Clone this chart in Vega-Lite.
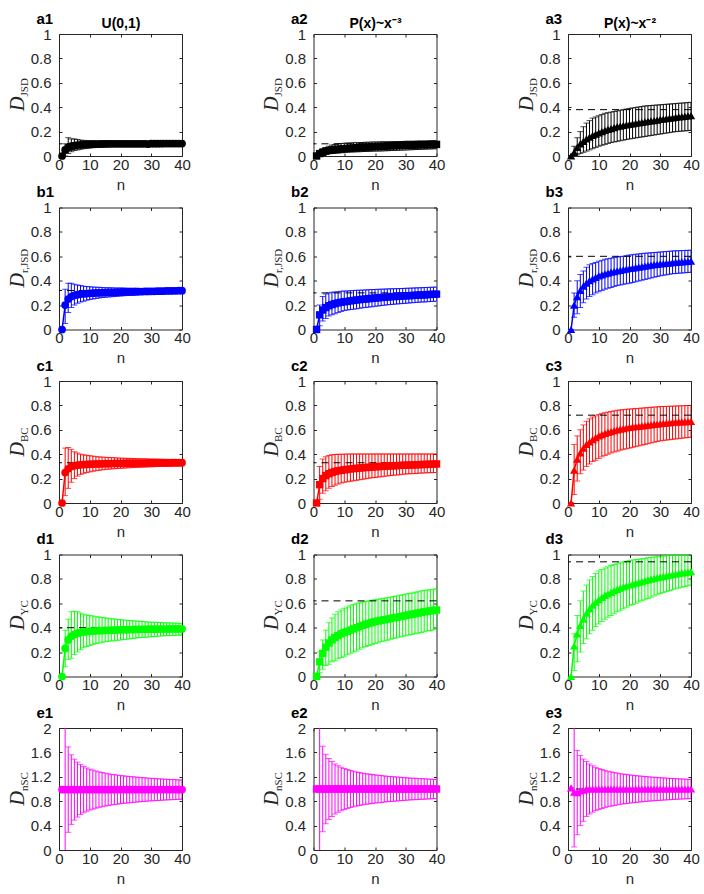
{
"$schema":"https://vega.github.io/schema/vega-lite/v6.json",
"background":"white",
"padding":{"left":7,"top":11,"right":5,"bottom":5},
"columns":3,
"spacing":{"row":51.5,"column":131.5},
"bounds":"flush",
"config":{
 "view":{"stroke":null},
 "axis":{"grid":false,"domainColor":"#262626","tickColor":"#262626","labelColor":"#262626","labelFont":"Liberation Sans","labelFontSize":15,"tickSize":-3,"domainWidth":1,"tickWidth":1,"titleColor":"#262626","titleFont":"Liberation Sans","titleFontSize":15,"titleFontWeight":"normal","labelFlush":false,"labelOverlap":false},
 "axisBottom":{"labelPadding":4,"titlePadding":5},
 "axisTop":{"labels":false,"titleFontWeight":"bold","titleFontSize":15,"titleColor":"#000","titleAlign":"left","titleBaseline":"alphabetic","titleAngle":0,"titleX":-23,"titleY":-11},
 "axisRight":{"labels":false},
 "axisLeft":{"format":"~g","labelPadding":11,"titleFont":"Liberation Serif","titleFontStyle":"italic","titleFontSize":20,"titleAngle":270,"titleAlign":"left","titleBaseline":"alphabetic","titleX":-36}
},
"datasets":{
"refs":[{"p":"a1","v":0.1},{"p":"a2","v":0.1},{"p":"a3","v":0.38},{"p":"b1","v":0.32},{"p":"b2","v":0.3},{"p":"b3","v":0.6},{"p":"c1","v":0.33},{"p":"c2","v":0.33},{"p":"c3","v":0.72},{"p":"d1","v":0.4},{"p":"d2","v":0.62},{"p":"d3","v":0.94},{"p":"e1","v":1},{"p":"e2","v":1},{"p":"e3","v":1}],
"a1":[{"n":1,"m":0,"l":0,"h":0},{"n":2,"m":0.05,"l":0,"h":0.1},{"n":3,"m":0.07,"l":0.02,"h":0.15},{"n":4,"m":0.08,"l":0.035,"h":0.14},{"n":5,"m":0.085,"l":0.045,"h":0.14},{"n":6,"m":0.09,"l":0.05,"h":0.135},{"n":7,"m":0.092,"l":0.055,"h":0.13},{"n":8,"m":0.094,"l":0.06,"h":0.128},{"n":9,"m":0.095,"l":0.063,"h":0.126},{"n":10,"m":0.096,"l":0.066,"h":0.125},{"n":11,"m":0.097,"l":0.068,"h":0.124},{"n":12,"m":0.098,"l":0.07,"h":0.123},{"n":13,"m":0.098,"l":0.072,"h":0.122},{"n":14,"m":0.099,"l":0.073,"h":0.122},{"n":15,"m":0.099,"l":0.075,"h":0.121},{"n":16,"m":0.1,"l":0.076,"h":0.121},{"n":17,"m":0.1,"l":0.077,"h":0.12},{"n":18,"m":0.1,"l":0.078,"h":0.12},{"n":19,"m":0.1,"l":0.079,"h":0.12},{"n":20,"m":0.1,"l":0.08,"h":0.119},{"n":21,"m":0.1,"l":0.08,"h":0.119},{"n":22,"m":0.1,"l":0.081,"h":0.119},{"n":23,"m":0.1,"l":0.081,"h":0.118},{"n":24,"m":0.1,"l":0.082,"h":0.118},{"n":25,"m":0.1,"l":0.082,"h":0.118},{"n":26,"m":0.1,"l":0.083,"h":0.118},{"n":27,"m":0.1,"l":0.083,"h":0.117},{"n":28,"m":0.1,"l":0.084,"h":0.117},{"n":29,"m":0.098,"l":0.084,"h":0.117},{"n":30,"m":0.101,"l":0.085,"h":0.117},{"n":31,"m":0.101,"l":0.085,"h":0.117},{"n":32,"m":0.101,"l":0.085,"h":0.116},{"n":33,"m":0.101,"l":0.086,"h":0.116},{"n":34,"m":0.102,"l":0.086,"h":0.116},{"n":35,"m":0.102,"l":0.086,"h":0.116},{"n":36,"m":0.102,"l":0.087,"h":0.116},{"n":37,"m":0.102,"l":0.087,"h":0.115},{"n":38,"m":0.102,"l":0.087,"h":0.115},{"n":39,"m":0.102,"l":0.088,"h":0.115},{"n":40,"m":0.102,"l":0.088,"h":0.115}],
"a2":[{"n":1,"m":0,"l":0,"h":0},{"n":2,"m":0.02,"l":0.005,"h":0.04},{"n":3,"m":0.03,"l":0.01,"h":0.06},{"n":4,"m":0.04,"l":0.015,"h":0.07},{"n":5,"m":0.045,"l":0.02,"h":0.08},{"n":6,"m":0.05,"l":0.02,"h":0.09},{"n":7,"m":0.053,"l":0.022,"h":0.095},{"n":8,"m":0.056,"l":0.025,"h":0.1},{"n":9,"m":0.058,"l":0.027,"h":0.102},{"n":10,"m":0.06,"l":0.03,"h":0.105},{"n":11,"m":0.062,"l":0.031,"h":0.106},{"n":12,"m":0.064,"l":0.032,"h":0.107},{"n":13,"m":0.066,"l":0.033,"h":0.108},{"n":14,"m":0.068,"l":0.034,"h":0.109},{"n":15,"m":0.07,"l":0.035,"h":0.11},{"n":16,"m":0.071,"l":0.036,"h":0.111},{"n":17,"m":0.073,"l":0.037,"h":0.112},{"n":18,"m":0.074,"l":0.038,"h":0.113},{"n":19,"m":0.076,"l":0.039,"h":0.114},{"n":20,"m":0.077,"l":0.04,"h":0.115},{"n":21,"m":0.078,"l":0.041,"h":0.115},{"n":22,"m":0.079,"l":0.042,"h":0.116},{"n":23,"m":0.08,"l":0.043,"h":0.116},{"n":24,"m":0.082,"l":0.044,"h":0.117},{"n":25,"m":0.083,"l":0.045,"h":0.117},{"n":26,"m":0.084,"l":0.046,"h":0.118},{"n":27,"m":0.085,"l":0.047,"h":0.118},{"n":28,"m":0.086,"l":0.048,"h":0.119},{"n":29,"m":0.087,"l":0.049,"h":0.119},{"n":30,"m":0.088,"l":0.05,"h":0.12},{"n":31,"m":0.089,"l":0.051,"h":0.12},{"n":32,"m":0.089,"l":0.052,"h":0.121},{"n":33,"m":0.09,"l":0.053,"h":0.121},{"n":34,"m":0.091,"l":0.054,"h":0.122},{"n":35,"m":0.092,"l":0.055,"h":0.122},{"n":36,"m":0.092,"l":0.056,"h":0.123},{"n":37,"m":0.093,"l":0.057,"h":0.123},{"n":38,"m":0.094,"l":0.058,"h":0.124},{"n":39,"m":0.094,"l":0.059,"h":0.124},{"n":40,"m":0.095,"l":0.06,"h":0.125}],
"a3":[{"n":1,"m":0,"l":0,"h":0},{"n":2,"m":0.03,"l":0,"h":0.08},{"n":3,"m":0.07,"l":0.01,"h":0.15},{"n":4,"m":0.1,"l":0.02,"h":0.2},{"n":5,"m":0.12,"l":0.03,"h":0.24},{"n":6,"m":0.14,"l":0.04,"h":0.27},{"n":7,"m":0.155,"l":0.05,"h":0.29},{"n":8,"m":0.17,"l":0.06,"h":0.31},{"n":9,"m":0.18,"l":0.07,"h":0.32},{"n":10,"m":0.19,"l":0.08,"h":0.33},{"n":11,"m":0.2,"l":0.088,"h":0.34},{"n":12,"m":0.21,"l":0.095,"h":0.35},{"n":13,"m":0.218,"l":0.103,"h":0.355},{"n":14,"m":0.225,"l":0.11,"h":0.36},{"n":15,"m":0.233,"l":0.115,"h":0.365},{"n":16,"m":0.24,"l":0.12,"h":0.37},{"n":17,"m":0.245,"l":0.125,"h":0.375},{"n":18,"m":0.25,"l":0.13,"h":0.38},{"n":19,"m":0.255,"l":0.135,"h":0.385},{"n":20,"m":0.26,"l":0.14,"h":0.39},{"n":21,"m":0.264,"l":0.144,"h":0.394},{"n":22,"m":0.268,"l":0.148,"h":0.398},{"n":23,"m":0.272,"l":0.152,"h":0.402},{"n":24,"m":0.276,"l":0.156,"h":0.406},{"n":25,"m":0.28,"l":0.16,"h":0.41},{"n":26,"m":0.284,"l":0.164,"h":0.412},{"n":27,"m":0.287,"l":0.168,"h":0.414},{"n":28,"m":0.29,"l":0.172,"h":0.416},{"n":29,"m":0.295,"l":0.176,"h":0.418},{"n":30,"m":0.3,"l":0.18,"h":0.42},{"n":31,"m":0.303,"l":0.184,"h":0.422},{"n":32,"m":0.306,"l":0.188,"h":0.424},{"n":33,"m":0.31,"l":0.192,"h":0.426},{"n":34,"m":0.313,"l":0.196,"h":0.428},{"n":35,"m":0.316,"l":0.2,"h":0.43},{"n":36,"m":0.32,"l":0.202,"h":0.432},{"n":37,"m":0.322,"l":0.204,"h":0.434},{"n":38,"m":0.325,"l":0.206,"h":0.436},{"n":39,"m":0.328,"l":0.208,"h":0.438},{"n":40,"m":0.33,"l":0.21,"h":0.44}],
"b1":[{"n":1,"m":0,"l":0,"h":0},{"n":2,"m":0.2,"l":0.05,"h":0.33},{"n":3,"m":0.25,"l":0.14,"h":0.38},{"n":4,"m":0.27,"l":0.18,"h":0.38},{"n":5,"m":0.28,"l":0.2,"h":0.37},{"n":6,"m":0.285,"l":0.215,"h":0.365},{"n":7,"m":0.29,"l":0.225,"h":0.36},{"n":8,"m":0.293,"l":0.232,"h":0.355},{"n":9,"m":0.295,"l":0.239,"h":0.352},{"n":10,"m":0.297,"l":0.245,"h":0.35},{"n":11,"m":0.298,"l":0.25,"h":0.348},{"n":12,"m":0.3,"l":0.255,"h":0.347},{"n":13,"m":0.301,"l":0.258,"h":0.346},{"n":14,"m":0.302,"l":0.262,"h":0.344},{"n":15,"m":0.303,"l":0.265,"h":0.343},{"n":16,"m":0.304,"l":0.267,"h":0.342},{"n":17,"m":0.305,"l":0.269,"h":0.342},{"n":18,"m":0.305,"l":0.271,"h":0.341},{"n":19,"m":0.306,"l":0.273,"h":0.341},{"n":20,"m":0.307,"l":0.275,"h":0.34},{"n":21,"m":0.308,"l":0.277,"h":0.34},{"n":22,"m":0.308,"l":0.278,"h":0.339},{"n":23,"m":0.309,"l":0.28,"h":0.339},{"n":24,"m":0.309,"l":0.281,"h":0.338},{"n":25,"m":0.31,"l":0.283,"h":0.338},{"n":26,"m":0.311,"l":0.284,"h":0.337},{"n":27,"m":0.311,"l":0.286,"h":0.337},{"n":28,"m":0.312,"l":0.287,"h":0.336},{"n":29,"m":0.312,"l":0.289,"h":0.336},{"n":30,"m":0.313,"l":0.29,"h":0.335},{"n":31,"m":0.313,"l":0.291,"h":0.335},{"n":32,"m":0.314,"l":0.292,"h":0.334},{"n":33,"m":0.314,"l":0.293,"h":0.334},{"n":34,"m":0.315,"l":0.294,"h":0.334},{"n":35,"m":0.316,"l":0.295,"h":0.333},{"n":36,"m":0.316,"l":0.296,"h":0.333},{"n":37,"m":0.317,"l":0.297,"h":0.333},{"n":38,"m":0.317,"l":0.298,"h":0.332},{"n":39,"m":0.318,"l":0.299,"h":0.332},{"n":40,"m":0.318,"l":0.3,"h":0.332}],
"b2":[{"n":1,"m":0,"l":0,"h":0},{"n":2,"m":0.12,"l":0.03,"h":0.2},{"n":3,"m":0.16,"l":0.07,"h":0.27},{"n":4,"m":0.18,"l":0.09,"h":0.29},{"n":5,"m":0.195,"l":0.11,"h":0.3},{"n":6,"m":0.205,"l":0.12,"h":0.305},{"n":7,"m":0.212,"l":0.13,"h":0.308},{"n":8,"m":0.218,"l":0.14,"h":0.31},{"n":9,"m":0.223,"l":0.148,"h":0.313},{"n":10,"m":0.228,"l":0.155,"h":0.315},{"n":11,"m":0.23,"l":0.159,"h":0.316},{"n":12,"m":0.235,"l":0.163,"h":0.318},{"n":13,"m":0.238,"l":0.167,"h":0.319},{"n":14,"m":0.242,"l":0.171,"h":0.321},{"n":15,"m":0.245,"l":0.175,"h":0.322},{"n":16,"m":0.248,"l":0.178,"h":0.323},{"n":17,"m":0.25,"l":0.181,"h":0.324},{"n":18,"m":0.253,"l":0.184,"h":0.326},{"n":19,"m":0.255,"l":0.187,"h":0.327},{"n":20,"m":0.258,"l":0.19,"h":0.328},{"n":21,"m":0.26,"l":0.193,"h":0.329},{"n":22,"m":0.262,"l":0.196,"h":0.33},{"n":23,"m":0.264,"l":0.199,"h":0.331},{"n":24,"m":0.266,"l":0.202,"h":0.332},{"n":25,"m":0.268,"l":0.205,"h":0.333},{"n":26,"m":0.27,"l":0.207,"h":0.334},{"n":27,"m":0.271,"l":0.209,"h":0.335},{"n":28,"m":0.273,"l":0.211,"h":0.336},{"n":29,"m":0.275,"l":0.213,"h":0.337},{"n":30,"m":0.276,"l":0.215,"h":0.338},{"n":31,"m":0.277,"l":0.217,"h":0.339},{"n":32,"m":0.279,"l":0.219,"h":0.34},{"n":33,"m":0.28,"l":0.221,"h":0.341},{"n":34,"m":0.282,"l":0.223,"h":0.342},{"n":35,"m":0.283,"l":0.225,"h":0.343},{"n":36,"m":0.284,"l":0.226,"h":0.344},{"n":37,"m":0.286,"l":0.228,"h":0.345},{"n":38,"m":0.287,"l":0.229,"h":0.346},{"n":39,"m":0.289,"l":0.231,"h":0.347},{"n":40,"m":0.29,"l":0.232,"h":0.348}],
"b3":[{"n":1,"m":0,"l":0,"h":0},{"n":2,"m":0.2,"l":0.1,"h":0.3},{"n":3,"m":0.27,"l":0.13,"h":0.4},{"n":4,"m":0.32,"l":0.18,"h":0.45},{"n":5,"m":0.355,"l":0.22,"h":0.48},{"n":6,"m":0.38,"l":0.25,"h":0.51},{"n":7,"m":0.4,"l":0.27,"h":0.53},{"n":8,"m":0.415,"l":0.285,"h":0.54},{"n":9,"m":0.428,"l":0.3,"h":0.55},{"n":10,"m":0.44,"l":0.31,"h":0.56},{"n":11,"m":0.448,"l":0.32,"h":0.568},{"n":12,"m":0.455,"l":0.33,"h":0.575},{"n":13,"m":0.463,"l":0.338,"h":0.58},{"n":14,"m":0.47,"l":0.345,"h":0.585},{"n":15,"m":0.475,"l":0.353,"h":0.59},{"n":16,"m":0.48,"l":0.36,"h":0.595},{"n":17,"m":0.485,"l":0.365,"h":0.598},{"n":18,"m":0.49,"l":0.37,"h":0.6},{"n":19,"m":0.495,"l":0.375,"h":0.605},{"n":20,"m":0.5,"l":0.38,"h":0.61},{"n":21,"m":0.504,"l":0.386,"h":0.613},{"n":22,"m":0.508,"l":0.392,"h":0.616},{"n":23,"m":0.512,"l":0.398,"h":0.619},{"n":24,"m":0.516,"l":0.404,"h":0.622},{"n":25,"m":0.52,"l":0.41,"h":0.625},{"n":26,"m":0.524,"l":0.416,"h":0.627},{"n":27,"m":0.527,"l":0.422,"h":0.629},{"n":28,"m":0.531,"l":0.428,"h":0.631},{"n":29,"m":0.534,"l":0.434,"h":0.633},{"n":30,"m":0.538,"l":0.44,"h":0.635},{"n":31,"m":0.54,"l":0.444,"h":0.637},{"n":32,"m":0.543,"l":0.448,"h":0.639},{"n":33,"m":0.545,"l":0.452,"h":0.641},{"n":34,"m":0.548,"l":0.456,"h":0.643},{"n":35,"m":0.55,"l":0.46,"h":0.645},{"n":36,"m":0.552,"l":0.462,"h":0.646},{"n":37,"m":0.554,"l":0.464,"h":0.647},{"n":38,"m":0.556,"l":0.466,"h":0.648},{"n":39,"m":0.558,"l":0.468,"h":0.649},{"n":40,"m":0.56,"l":0.47,"h":0.65}],
"c1":[{"n":1,"m":0,"l":0,"h":0},{"n":2,"m":0.25,"l":0.06,"h":0.45},{"n":3,"m":0.28,"l":0.12,"h":0.455},{"n":4,"m":0.3,"l":0.17,"h":0.44},{"n":5,"m":0.305,"l":0.2,"h":0.42},{"n":6,"m":0.31,"l":0.22,"h":0.41},{"n":7,"m":0.313,"l":0.233,"h":0.4},{"n":8,"m":0.315,"l":0.243,"h":0.395},{"n":9,"m":0.316,"l":0.25,"h":0.391},{"n":10,"m":0.318,"l":0.255,"h":0.388},{"n":11,"m":0.319,"l":0.26,"h":0.384},{"n":12,"m":0.32,"l":0.265,"h":0.38},{"n":13,"m":0.32,"l":0.268,"h":0.378},{"n":14,"m":0.321,"l":0.272,"h":0.376},{"n":15,"m":0.322,"l":0.275,"h":0.375},{"n":16,"m":0.322,"l":0.277,"h":0.373},{"n":17,"m":0.323,"l":0.279,"h":0.372},{"n":18,"m":0.324,"l":0.281,"h":0.371},{"n":19,"m":0.324,"l":0.283,"h":0.369},{"n":20,"m":0.325,"l":0.285,"h":0.368},{"n":21,"m":0.325,"l":0.286,"h":0.367},{"n":22,"m":0.326,"l":0.288,"h":0.366},{"n":23,"m":0.326,"l":0.289,"h":0.366},{"n":24,"m":0.326,"l":0.291,"h":0.365},{"n":25,"m":0.327,"l":0.292,"h":0.364},{"n":26,"m":0.327,"l":0.293,"h":0.363},{"n":27,"m":0.327,"l":0.294,"h":0.362},{"n":28,"m":0.327,"l":0.295,"h":0.362},{"n":29,"m":0.328,"l":0.296,"h":0.361},{"n":30,"m":0.328,"l":0.297,"h":0.36},{"n":31,"m":0.328,"l":0.298,"h":0.36},{"n":32,"m":0.328,"l":0.299,"h":0.359},{"n":33,"m":0.329,"l":0.3,"h":0.359},{"n":34,"m":0.329,"l":0.3,"h":0.358},{"n":35,"m":0.329,"l":0.301,"h":0.358},{"n":36,"m":0.329,"l":0.302,"h":0.357},{"n":37,"m":0.33,"l":0.303,"h":0.357},{"n":38,"m":0.33,"l":0.303,"h":0.356},{"n":39,"m":0.33,"l":0.304,"h":0.356},{"n":40,"m":0.33,"l":0.305,"h":0.355}],
"c2":[{"n":1,"m":0,"l":0,"h":0},{"n":2,"m":0.15,"l":0.03,"h":0.3},{"n":3,"m":0.2,"l":0.08,"h":0.36},{"n":4,"m":0.225,"l":0.1,"h":0.38},{"n":5,"m":0.24,"l":0.12,"h":0.39},{"n":6,"m":0.25,"l":0.135,"h":0.395},{"n":7,"m":0.258,"l":0.145,"h":0.398},{"n":8,"m":0.264,"l":0.155,"h":0.4},{"n":9,"m":0.268,"l":0.163,"h":0.4},{"n":10,"m":0.272,"l":0.17,"h":0.4},{"n":11,"m":0.275,"l":0.174,"h":0.401},{"n":12,"m":0.279,"l":0.178,"h":0.401},{"n":13,"m":0.282,"l":0.182,"h":0.401},{"n":14,"m":0.284,"l":0.186,"h":0.402},{"n":15,"m":0.287,"l":0.19,"h":0.402},{"n":16,"m":0.289,"l":0.194,"h":0.402},{"n":17,"m":0.291,"l":0.198,"h":0.402},{"n":18,"m":0.293,"l":0.202,"h":0.402},{"n":19,"m":0.295,"l":0.206,"h":0.402},{"n":20,"m":0.297,"l":0.21,"h":0.402},{"n":21,"m":0.298,"l":0.213,"h":0.402},{"n":22,"m":0.3,"l":0.216,"h":0.402},{"n":23,"m":0.301,"l":0.219,"h":0.402},{"n":24,"m":0.303,"l":0.222,"h":0.402},{"n":25,"m":0.304,"l":0.225,"h":0.402},{"n":26,"m":0.305,"l":0.227,"h":0.402},{"n":27,"m":0.306,"l":0.23,"h":0.402},{"n":28,"m":0.308,"l":0.232,"h":0.402},{"n":29,"m":0.309,"l":0.235,"h":0.402},{"n":30,"m":0.31,"l":0.237,"h":0.402},{"n":31,"m":0.311,"l":0.239,"h":0.402},{"n":32,"m":0.312,"l":0.24,"h":0.402},{"n":33,"m":0.313,"l":0.242,"h":0.402},{"n":34,"m":0.314,"l":0.243,"h":0.402},{"n":35,"m":0.315,"l":0.245,"h":0.402},{"n":36,"m":0.316,"l":0.246,"h":0.402},{"n":37,"m":0.317,"l":0.247,"h":0.402},{"n":38,"m":0.318,"l":0.248,"h":0.402},{"n":39,"m":0.319,"l":0.249,"h":0.402},{"n":40,"m":0.32,"l":0.25,"h":0.402}],
"c3":[{"n":1,"m":0,"l":0,"h":0},{"n":2,"m":0.27,"l":0.07,"h":0.48},{"n":3,"m":0.36,"l":0.18,"h":0.55},{"n":4,"m":0.41,"l":0.24,"h":0.6},{"n":5,"m":0.45,"l":0.27,"h":0.64},{"n":6,"m":0.48,"l":0.3,"h":0.67},{"n":7,"m":0.5,"l":0.32,"h":0.69},{"n":8,"m":0.52,"l":0.34,"h":0.705},{"n":9,"m":0.535,"l":0.35,"h":0.715},{"n":10,"m":0.55,"l":0.365,"h":0.725},{"n":11,"m":0.56,"l":0.378,"h":0.733},{"n":12,"m":0.57,"l":0.39,"h":0.74},{"n":13,"m":0.578,"l":0.4,"h":0.745},{"n":14,"m":0.585,"l":0.41,"h":0.75},{"n":15,"m":0.593,"l":0.418,"h":0.755},{"n":16,"m":0.6,"l":0.425,"h":0.76},{"n":17,"m":0.605,"l":0.433,"h":0.763},{"n":18,"m":0.61,"l":0.44,"h":0.765},{"n":19,"m":0.615,"l":0.445,"h":0.768},{"n":20,"m":0.62,"l":0.45,"h":0.77},{"n":21,"m":0.623,"l":0.456,"h":0.772},{"n":22,"m":0.626,"l":0.462,"h":0.774},{"n":23,"m":0.629,"l":0.468,"h":0.776},{"n":24,"m":0.632,"l":0.474,"h":0.778},{"n":25,"m":0.635,"l":0.48,"h":0.78},{"n":26,"m":0.638,"l":0.486,"h":0.782},{"n":27,"m":0.641,"l":0.492,"h":0.784},{"n":28,"m":0.644,"l":0.498,"h":0.786},{"n":29,"m":0.647,"l":0.504,"h":0.788},{"n":30,"m":0.65,"l":0.51,"h":0.79},{"n":31,"m":0.652,"l":0.513,"h":0.791},{"n":32,"m":0.655,"l":0.516,"h":0.792},{"n":33,"m":0.657,"l":0.519,"h":0.793},{"n":34,"m":0.66,"l":0.522,"h":0.794},{"n":35,"m":0.662,"l":0.525,"h":0.795},{"n":36,"m":0.664,"l":0.528,"h":0.796},{"n":37,"m":0.665,"l":0.531,"h":0.797},{"n":38,"m":0.667,"l":0.534,"h":0.798},{"n":39,"m":0.668,"l":0.537,"h":0.799},{"n":40,"m":0.67,"l":0.54,"h":0.8}],
"d1":[{"n":1,"m":0,"l":0,"h":0},{"n":2,"m":0.23,"l":0.08,"h":0.38},{"n":3,"m":0.3,"l":0.14,"h":0.47},{"n":4,"m":0.33,"l":0.15,"h":0.53},{"n":5,"m":0.345,"l":0.18,"h":0.535},{"n":6,"m":0.355,"l":0.2,"h":0.53},{"n":7,"m":0.36,"l":0.22,"h":0.52},{"n":8,"m":0.365,"l":0.235,"h":0.51},{"n":9,"m":0.368,"l":0.245,"h":0.505},{"n":10,"m":0.37,"l":0.255,"h":0.5},{"n":11,"m":0.372,"l":0.263,"h":0.495},{"n":12,"m":0.374,"l":0.27,"h":0.49},{"n":13,"m":0.375,"l":0.275,"h":0.487},{"n":14,"m":0.377,"l":0.28,"h":0.483},{"n":15,"m":0.378,"l":0.285,"h":0.48},{"n":16,"m":0.379,"l":0.288,"h":0.477},{"n":17,"m":0.38,"l":0.291,"h":0.474},{"n":18,"m":0.381,"l":0.294,"h":0.471},{"n":19,"m":0.382,"l":0.297,"h":0.468},{"n":20,"m":0.383,"l":0.3,"h":0.465},{"n":21,"m":0.384,"l":0.303,"h":0.463},{"n":22,"m":0.384,"l":0.306,"h":0.461},{"n":23,"m":0.385,"l":0.309,"h":0.459},{"n":24,"m":0.385,"l":0.312,"h":0.457},{"n":25,"m":0.386,"l":0.315,"h":0.455},{"n":26,"m":0.386,"l":0.317,"h":0.453},{"n":27,"m":0.387,"l":0.319,"h":0.451},{"n":28,"m":0.387,"l":0.321,"h":0.449},{"n":29,"m":0.388,"l":0.323,"h":0.447},{"n":30,"m":0.388,"l":0.325,"h":0.445},{"n":31,"m":0.388,"l":0.327,"h":0.444},{"n":32,"m":0.389,"l":0.329,"h":0.443},{"n":33,"m":0.389,"l":0.331,"h":0.442},{"n":34,"m":0.389,"l":0.333,"h":0.441},{"n":35,"m":0.389,"l":0.335,"h":0.44},{"n":36,"m":0.39,"l":0.336,"h":0.439},{"n":37,"m":0.39,"l":0.337,"h":0.438},{"n":38,"m":0.39,"l":0.338,"h":0.437},{"n":39,"m":0.39,"l":0.339,"h":0.436},{"n":40,"m":0.39,"l":0.34,"h":0.435}],
"d2":[{"n":1,"m":0,"l":0,"h":0},{"n":2,"m":0.12,"l":0.03,"h":0.2},{"n":3,"m":0.19,"l":0.06,"h":0.3},{"n":4,"m":0.24,"l":0.09,"h":0.38},{"n":5,"m":0.275,"l":0.1,"h":0.44},{"n":6,"m":0.3,"l":0.12,"h":0.48},{"n":7,"m":0.32,"l":0.13,"h":0.51},{"n":8,"m":0.335,"l":0.145,"h":0.53},{"n":9,"m":0.35,"l":0.155,"h":0.545},{"n":10,"m":0.36,"l":0.165,"h":0.56},{"n":11,"m":0.37,"l":0.178,"h":0.57},{"n":12,"m":0.38,"l":0.19,"h":0.58},{"n":13,"m":0.39,"l":0.2,"h":0.59},{"n":14,"m":0.4,"l":0.21,"h":0.6},{"n":15,"m":0.41,"l":0.223,"h":0.605},{"n":16,"m":0.42,"l":0.235,"h":0.61},{"n":17,"m":0.428,"l":0.245,"h":0.615},{"n":18,"m":0.435,"l":0.255,"h":0.62},{"n":19,"m":0.443,"l":0.263,"h":0.625},{"n":20,"m":0.45,"l":0.27,"h":0.63},{"n":21,"m":0.455,"l":0.277,"h":0.634},{"n":22,"m":0.46,"l":0.284,"h":0.638},{"n":23,"m":0.465,"l":0.291,"h":0.642},{"n":24,"m":0.47,"l":0.298,"h":0.646},{"n":25,"m":0.475,"l":0.305,"h":0.65},{"n":26,"m":0.48,"l":0.311,"h":0.655},{"n":27,"m":0.485,"l":0.317,"h":0.66},{"n":28,"m":0.49,"l":0.323,"h":0.665},{"n":29,"m":0.495,"l":0.329,"h":0.67},{"n":30,"m":0.5,"l":0.335,"h":0.675},{"n":31,"m":0.505,"l":0.34,"h":0.68},{"n":32,"m":0.51,"l":0.345,"h":0.685},{"n":33,"m":0.515,"l":0.35,"h":0.69},{"n":34,"m":0.52,"l":0.355,"h":0.695},{"n":35,"m":0.525,"l":0.36,"h":0.7},{"n":36,"m":0.53,"l":0.366,"h":0.704},{"n":37,"m":0.534,"l":0.372,"h":0.708},{"n":38,"m":0.538,"l":0.378,"h":0.712},{"n":39,"m":0.541,"l":0.384,"h":0.716},{"n":40,"m":0.545,"l":0.39,"h":0.72}],
"d3":[{"n":1,"m":0,"l":0,"h":0},{"n":2,"m":0.25,"l":0.05,"h":0.35},{"n":3,"m":0.35,"l":0.12,"h":0.5},{"n":4,"m":0.42,"l":0.2,"h":0.62},{"n":5,"m":0.47,"l":0.27,"h":0.7},{"n":6,"m":0.52,"l":0.31,"h":0.75},{"n":7,"m":0.555,"l":0.35,"h":0.79},{"n":8,"m":0.585,"l":0.38,"h":0.82},{"n":9,"m":0.61,"l":0.41,"h":0.845},{"n":10,"m":0.63,"l":0.43,"h":0.865},{"n":11,"m":0.648,"l":0.45,"h":0.878},{"n":12,"m":0.665,"l":0.47,"h":0.89},{"n":13,"m":0.678,"l":0.485,"h":0.9},{"n":14,"m":0.69,"l":0.5,"h":0.91},{"n":15,"m":0.703,"l":0.515,"h":0.918},{"n":16,"m":0.715,"l":0.53,"h":0.925},{"n":17,"m":0.725,"l":0.543,"h":0.933},{"n":18,"m":0.735,"l":0.555,"h":0.94},{"n":19,"m":0.743,"l":0.568,"h":0.945},{"n":20,"m":0.75,"l":0.58,"h":0.95},{"n":21,"m":0.758,"l":0.59,"h":0.954},{"n":22,"m":0.765,"l":0.6,"h":0.958},{"n":23,"m":0.772,"l":0.61,"h":0.962},{"n":24,"m":0.778,"l":0.62,"h":0.966},{"n":25,"m":0.785,"l":0.63,"h":0.97},{"n":26,"m":0.792,"l":0.64,"h":0.973},{"n":27,"m":0.798,"l":0.65,"h":0.976},{"n":28,"m":0.805,"l":0.66,"h":0.979},{"n":29,"m":0.81,"l":0.67,"h":0.982},{"n":30,"m":0.815,"l":0.68,"h":0.985},{"n":31,"m":0.82,"l":0.688,"h":0.987},{"n":32,"m":0.825,"l":0.696,"h":0.989},{"n":33,"m":0.83,"l":0.704,"h":0.991},{"n":34,"m":0.835,"l":0.712,"h":0.993},{"n":35,"m":0.84,"l":0.72,"h":0.995},{"n":36,"m":0.845,"l":0.726,"h":0.996},{"n":37,"m":0.849,"l":0.732,"h":0.997},{"n":38,"m":0.852,"l":0.738,"h":0.998},{"n":39,"m":0.856,"l":0.744,"h":0.999},{"n":40,"m":0.86,"l":0.75,"h":1.0}],
"e1":[{"n":1,"m":0.99,"l":0.99,"h":0.99},{"n":2,"m":0.99,"l":-0.5,"h":2.5},{"n":3,"m":0.99,"l":0.29,"h":1.69},{"n":4,"m":0.99,"l":0.42,"h":1.56},{"n":5,"m":0.99,"l":0.49,"h":1.49},{"n":6,"m":0.99,"l":0.54,"h":1.44},{"n":7,"m":0.99,"l":0.58,"h":1.4},{"n":8,"m":0.99,"l":0.61,"h":1.37},{"n":9,"m":0.99,"l":0.635,"h":1.345},{"n":10,"m":0.99,"l":0.655,"h":1.325},{"n":11,"m":0.99,"l":0.67,"h":1.31},{"n":12,"m":0.99,"l":0.685,"h":1.295},{"n":13,"m":0.99,"l":0.7,"h":1.28},{"n":14,"m":0.99,"l":0.71,"h":1.27},{"n":15,"m":0.99,"l":0.72,"h":1.26},{"n":16,"m":0.99,"l":0.73,"h":1.25},{"n":17,"m":0.99,"l":0.74,"h":1.24},{"n":18,"m":0.99,"l":0.745,"h":1.235},{"n":19,"m":0.99,"l":0.752,"h":1.228},{"n":20,"m":0.99,"l":0.76,"h":1.22},{"n":21,"m":0.99,"l":0.765,"h":1.215},{"n":22,"m":0.99,"l":0.77,"h":1.21},{"n":23,"m":0.99,"l":0.776,"h":1.204},{"n":24,"m":0.99,"l":0.78,"h":1.2},{"n":25,"m":0.99,"l":0.785,"h":1.195},{"n":26,"m":0.99,"l":0.79,"h":1.19},{"n":27,"m":0.99,"l":0.794,"h":1.186},{"n":28,"m":0.99,"l":0.798,"h":1.182},{"n":29,"m":0.99,"l":0.802,"h":1.178},{"n":30,"m":0.99,"l":0.805,"h":1.175},{"n":31,"m":0.99,"l":0.809,"h":1.171},{"n":32,"m":0.99,"l":0.812,"h":1.168},{"n":33,"m":0.99,"l":0.815,"h":1.165},{"n":34,"m":0.99,"l":0.818,"h":1.162},{"n":35,"m":0.99,"l":0.821,"h":1.159},{"n":36,"m":0.99,"l":0.824,"h":1.156},{"n":37,"m":0.99,"l":0.826,"h":1.154},{"n":38,"m":0.99,"l":0.829,"h":1.151},{"n":39,"m":0.99,"l":0.831,"h":1.149},{"n":40,"m":0.99,"l":0.833,"h":1.147}],
"e2":[{"n":1,"m":1,"l":1,"h":1},{"n":2,"m":1,"l":-0.5,"h":2.5},{"n":3,"m":1,"l":0.3,"h":1.7},{"n":4,"m":1,"l":0.43,"h":1.57},{"n":5,"m":1,"l":0.5,"h":1.5},{"n":6,"m":1,"l":0.55,"h":1.45},{"n":7,"m":1,"l":0.59,"h":1.41},{"n":8,"m":1,"l":0.62,"h":1.38},{"n":9,"m":1,"l":0.645,"h":1.355},{"n":10,"m":1,"l":0.665,"h":1.335},{"n":11,"m":1,"l":0.68,"h":1.32},{"n":12,"m":1,"l":0.695,"h":1.305},{"n":13,"m":1,"l":0.71,"h":1.29},{"n":14,"m":1,"l":0.72,"h":1.28},{"n":15,"m":1,"l":0.73,"h":1.27},{"n":16,"m":1,"l":0.74,"h":1.26},{"n":17,"m":1,"l":0.75,"h":1.25},{"n":18,"m":1,"l":0.755,"h":1.245},{"n":19,"m":1,"l":0.762,"h":1.238},{"n":20,"m":1,"l":0.77,"h":1.23},{"n":21,"m":1,"l":0.775,"h":1.225},{"n":22,"m":1,"l":0.78,"h":1.22},{"n":23,"m":1,"l":0.786,"h":1.214},{"n":24,"m":1,"l":0.79,"h":1.21},{"n":25,"m":1,"l":0.795,"h":1.205},{"n":26,"m":1,"l":0.8,"h":1.2},{"n":27,"m":1,"l":0.804,"h":1.196},{"n":28,"m":1,"l":0.808,"h":1.192},{"n":29,"m":1,"l":0.812,"h":1.188},{"n":30,"m":1,"l":0.815,"h":1.185},{"n":31,"m":1,"l":0.819,"h":1.181},{"n":32,"m":1,"l":0.822,"h":1.178},{"n":33,"m":1,"l":0.825,"h":1.175},{"n":34,"m":1,"l":0.828,"h":1.172},{"n":35,"m":1,"l":0.831,"h":1.169},{"n":36,"m":1,"l":0.834,"h":1.166},{"n":37,"m":1,"l":0.836,"h":1.164},{"n":38,"m":1,"l":0.839,"h":1.161},{"n":39,"m":1,"l":0.841,"h":1.159},{"n":40,"m":1,"l":0.843,"h":1.157}],
"e3":[{"n":1,"m":1.02,"l":1.02,"h":1.02},{"n":2,"m":0.95,"l":0.05,"h":2.5},{"n":3,"m":0.94,"l":0.25,"h":1.63},{"n":4,"m":0.97,"l":0.4,"h":1.55},{"n":5,"m":0.98,"l":0.47,"h":1.49},{"n":6,"m":1,"l":0.55,"h":1.45},{"n":7,"m":1,"l":0.59,"h":1.41},{"n":8,"m":1,"l":0.62,"h":1.38},{"n":9,"m":1,"l":0.645,"h":1.355},{"n":10,"m":1,"l":0.665,"h":1.335},{"n":11,"m":1,"l":0.68,"h":1.32},{"n":12,"m":1,"l":0.695,"h":1.305},{"n":13,"m":1,"l":0.71,"h":1.29},{"n":14,"m":1,"l":0.72,"h":1.28},{"n":15,"m":1,"l":0.73,"h":1.27},{"n":16,"m":1,"l":0.74,"h":1.26},{"n":17,"m":1,"l":0.75,"h":1.25},{"n":18,"m":1,"l":0.755,"h":1.245},{"n":19,"m":1,"l":0.762,"h":1.238},{"n":20,"m":1,"l":0.77,"h":1.23},{"n":21,"m":1,"l":0.775,"h":1.225},{"n":22,"m":1,"l":0.78,"h":1.22},{"n":23,"m":1,"l":0.786,"h":1.214},{"n":24,"m":1,"l":0.79,"h":1.21},{"n":25,"m":1,"l":0.795,"h":1.205},{"n":26,"m":1,"l":0.8,"h":1.2},{"n":27,"m":1,"l":0.804,"h":1.196},{"n":28,"m":1,"l":0.808,"h":1.192},{"n":29,"m":1,"l":0.812,"h":1.188},{"n":30,"m":1,"l":0.815,"h":1.185},{"n":31,"m":1,"l":0.819,"h":1.181},{"n":32,"m":1,"l":0.822,"h":1.178},{"n":33,"m":1,"l":0.825,"h":1.175},{"n":34,"m":1,"l":0.828,"h":1.172},{"n":35,"m":1,"l":0.831,"h":1.169},{"n":36,"m":1,"l":0.834,"h":1.166},{"n":37,"m":1,"l":0.836,"h":1.164},{"n":38,"m":1,"l":0.839,"h":1.161},{"n":39,"m":1,"l":0.841,"h":1.159},{"n":40,"m":1,"l":0.843,"h":1.157}]
},
"concat":[
{"width":123,"height":122,
 "layer":[
  {"data":{"name":"a1"},"mark":{"type":"errorbar","ticks":true,"size":6,"thickness":1,"color":"#000","clip":true},"encoding":{"x":{"field":"n","type":"quantitative","scale":{"domain":[0,40]},"axis":{"orient":"top","labels":false,"ticks":false,"domain":false,"title":"U(0,1)","titleAlign":"center","titleX":61.5,"titleY":-7,"titleFontSize":14}},"y":{"field":"l","type":"quantitative","scale":{"domain":[0,1]},"axis":null},"y2":{"field":"h"}}},
  {"data":{"name":"refs"},"transform":[{"filter":"datum.p==='a1'"}],"mark":{"type":"rule","color":"#000","strokeDash":[7,5],"strokeWidth":1},"encoding":{"y":{"field":"v","type":"quantitative","scale":{"domain":[0,1]},"axis":{"orient":"left","labels":false,"ticks":false,"domain":false,"title":"JSD","titleFontStyle":"normal","titleFontSize":11,"titleX":-32,"titleY":62}}}},
  {"data":{"name":"a1"},"mark":{"type":"line","color":"#000","strokeWidth":1.5},"encoding":{"x":{"field":"n","type":"quantitative","scale":{"domain":[0,40]},"axis":{"orient":"bottom","values":[0,10,20,30,40],"title":"n"}},"y":{"field":"m","type":"quantitative","scale":{"domain":[0,1]},"axis":{"orient":"left","values":[0,0.2,0.4,0.6,0.8,1],"title":"D","titleY":76.5}}}},
  {"data":{"name":"a1"},"mark":{"type":"point","shape":"circle","filled":true,"opacity":1,"size":60,"color":"#000"},"encoding":{"x":{"field":"n","type":"quantitative","scale":{"domain":[0,40]},"axis":{"orient":"top","values":[0,10,20,30,40],"title":"a1"}},"y":{"field":"m","type":"quantitative","scale":{"domain":[0,1]},"axis":{"orient":"right","values":[0,0.2,0.4,0.6,0.8,1],"title":null}}}}
 ],"resolve":{"axis":{"x":"independent","y":"independent"}}},
{"width":123,"height":122,
 "layer":[
  {"data":{"name":"a2"},"mark":{"type":"errorbar","ticks":true,"size":6,"thickness":1,"color":"#000","clip":true},"encoding":{"x":{"field":"n","type":"quantitative","scale":{"domain":[0,40]},"axis":{"orient":"top","labels":false,"ticks":false,"domain":false,"title":"P(x)~x⁻³","titleAlign":"center","titleX":61.5,"titleY":-7,"titleFontSize":14}},"y":{"field":"l","type":"quantitative","scale":{"domain":[0,1]},"axis":null},"y2":{"field":"h"}}},
  {"data":{"name":"refs"},"transform":[{"filter":"datum.p==='a2'"}],"mark":{"type":"rule","color":"#000","strokeDash":[7,5],"strokeWidth":1},"encoding":{"y":{"field":"v","type":"quantitative","scale":{"domain":[0,1]},"axis":{"orient":"left","labels":false,"ticks":false,"domain":false,"title":"JSD","titleFontStyle":"normal","titleFontSize":11,"titleX":-32,"titleY":62}}}},
  {"data":{"name":"a2"},"mark":{"type":"line","color":"#000","strokeWidth":1.5},"encoding":{"x":{"field":"n","type":"quantitative","scale":{"domain":[0,40]},"axis":{"orient":"bottom","values":[0,10,20,30,40],"title":"n"}},"y":{"field":"m","type":"quantitative","scale":{"domain":[0,1]},"axis":{"orient":"left","values":[0,0.2,0.4,0.6,0.8,1],"title":"D","titleY":76.5}}}},
  {"data":{"name":"a2"},"mark":{"type":"point","shape":"square","filled":true,"opacity":1,"size":55,"color":"#000"},"encoding":{"x":{"field":"n","type":"quantitative","scale":{"domain":[0,40]},"axis":{"orient":"top","values":[0,10,20,30,40],"title":"a2"}},"y":{"field":"m","type":"quantitative","scale":{"domain":[0,1]},"axis":{"orient":"right","values":[0,0.2,0.4,0.6,0.8,1],"title":null}}}}
 ],"resolve":{"axis":{"x":"independent","y":"independent"}}},
{"width":123,"height":122,
 "layer":[
  {"data":{"name":"a3"},"mark":{"type":"errorbar","ticks":true,"size":6,"thickness":1,"color":"#000","clip":true},"encoding":{"x":{"field":"n","type":"quantitative","scale":{"domain":[0,40]},"axis":{"orient":"top","labels":false,"ticks":false,"domain":false,"title":"P(x)~x⁻²","titleAlign":"center","titleX":61.5,"titleY":-7,"titleFontSize":14}},"y":{"field":"l","type":"quantitative","scale":{"domain":[0,1]},"axis":null},"y2":{"field":"h"}}},
  {"data":{"name":"refs"},"transform":[{"filter":"datum.p==='a3'"}],"mark":{"type":"rule","color":"#000","strokeDash":[7,5],"strokeWidth":1},"encoding":{"y":{"field":"v","type":"quantitative","scale":{"domain":[0,1]},"axis":{"orient":"left","labels":false,"ticks":false,"domain":false,"title":"JSD","titleFontStyle":"normal","titleFontSize":11,"titleX":-32,"titleY":62}}}},
  {"data":{"name":"a3"},"mark":{"type":"line","color":"#000","strokeWidth":1.5},"encoding":{"x":{"field":"n","type":"quantitative","scale":{"domain":[0,40]},"axis":{"orient":"bottom","values":[0,10,20,30,40],"title":"n"}},"y":{"field":"m","type":"quantitative","scale":{"domain":[0,1]},"axis":{"orient":"left","values":[0,0.2,0.4,0.6,0.8,1],"title":"D","titleY":76.5}}}},
  {"data":{"name":"a3"},"mark":{"type":"point","shape":"triangle-up","filled":true,"opacity":1,"size":70,"color":"#000"},"encoding":{"x":{"field":"n","type":"quantitative","scale":{"domain":[0,40]},"axis":{"orient":"top","values":[0,10,20,30,40],"title":"a3"}},"y":{"field":"m","type":"quantitative","scale":{"domain":[0,1]},"axis":{"orient":"right","values":[0,0.2,0.4,0.6,0.8,1],"title":null}}}}
 ],"resolve":{"axis":{"x":"independent","y":"independent"}}},
{"width":123,"height":122,
 "layer":[
  {"data":{"name":"b1"},"mark":{"type":"errorbar","ticks":true,"size":6,"thickness":1,"color":"#0000FF","clip":true},"encoding":{"x":{"field":"n","type":"quantitative","scale":{"domain":[0,40]},"axis":null},"y":{"field":"l","type":"quantitative","scale":{"domain":[0,1]},"axis":null},"y2":{"field":"h"}}},
  {"data":{"name":"refs"},"transform":[{"filter":"datum.p==='b1'"}],"mark":{"type":"rule","color":"#000","strokeDash":[7,5],"strokeWidth":1},"encoding":{"y":{"field":"v","type":"quantitative","scale":{"domain":[0,1]},"axis":{"orient":"left","labels":false,"ticks":false,"domain":false,"title":"r,JSD","titleFontStyle":"normal","titleFontSize":11,"titleX":-32,"titleY":65}}}},
  {"data":{"name":"b1"},"mark":{"type":"line","color":"#0000FF","strokeWidth":1.5},"encoding":{"x":{"field":"n","type":"quantitative","scale":{"domain":[0,40]},"axis":{"orient":"bottom","values":[0,10,20,30,40],"title":"n"}},"y":{"field":"m","type":"quantitative","scale":{"domain":[0,1]},"axis":{"orient":"left","values":[0,0.2,0.4,0.6,0.8,1],"title":"D","titleY":79.5}}}},
  {"data":{"name":"b1"},"mark":{"type":"point","shape":"circle","filled":true,"opacity":1,"size":60,"color":"#0000FF"},"encoding":{"x":{"field":"n","type":"quantitative","scale":{"domain":[0,40]},"axis":{"orient":"top","values":[0,10,20,30,40],"title":"b1"}},"y":{"field":"m","type":"quantitative","scale":{"domain":[0,1]},"axis":{"orient":"right","values":[0,0.2,0.4,0.6,0.8,1],"title":null}}}}
 ],"resolve":{"axis":{"x":"independent","y":"independent"}}},
{"width":123,"height":122,
 "layer":[
  {"data":{"name":"b2"},"mark":{"type":"errorbar","ticks":true,"size":6,"thickness":1,"color":"#0000FF","clip":true},"encoding":{"x":{"field":"n","type":"quantitative","scale":{"domain":[0,40]},"axis":null},"y":{"field":"l","type":"quantitative","scale":{"domain":[0,1]},"axis":null},"y2":{"field":"h"}}},
  {"data":{"name":"refs"},"transform":[{"filter":"datum.p==='b2'"}],"mark":{"type":"rule","color":"#000","strokeDash":[7,5],"strokeWidth":1},"encoding":{"y":{"field":"v","type":"quantitative","scale":{"domain":[0,1]},"axis":{"orient":"left","labels":false,"ticks":false,"domain":false,"title":"r,JSD","titleFontStyle":"normal","titleFontSize":11,"titleX":-32,"titleY":65}}}},
  {"data":{"name":"b2"},"mark":{"type":"line","color":"#0000FF","strokeWidth":1.5},"encoding":{"x":{"field":"n","type":"quantitative","scale":{"domain":[0,40]},"axis":{"orient":"bottom","values":[0,10,20,30,40],"title":"n"}},"y":{"field":"m","type":"quantitative","scale":{"domain":[0,1]},"axis":{"orient":"left","values":[0,0.2,0.4,0.6,0.8,1],"title":"D","titleY":79.5}}}},
  {"data":{"name":"b2"},"mark":{"type":"point","shape":"square","filled":true,"opacity":1,"size":55,"color":"#0000FF"},"encoding":{"x":{"field":"n","type":"quantitative","scale":{"domain":[0,40]},"axis":{"orient":"top","values":[0,10,20,30,40],"title":"b2"}},"y":{"field":"m","type":"quantitative","scale":{"domain":[0,1]},"axis":{"orient":"right","values":[0,0.2,0.4,0.6,0.8,1],"title":null}}}}
 ],"resolve":{"axis":{"x":"independent","y":"independent"}}},
{"width":123,"height":122,
 "layer":[
  {"data":{"name":"b3"},"mark":{"type":"errorbar","ticks":true,"size":6,"thickness":1,"color":"#0000FF","clip":true},"encoding":{"x":{"field":"n","type":"quantitative","scale":{"domain":[0,40]},"axis":null},"y":{"field":"l","type":"quantitative","scale":{"domain":[0,1]},"axis":null},"y2":{"field":"h"}}},
  {"data":{"name":"refs"},"transform":[{"filter":"datum.p==='b3'"}],"mark":{"type":"rule","color":"#000","strokeDash":[7,5],"strokeWidth":1},"encoding":{"y":{"field":"v","type":"quantitative","scale":{"domain":[0,1]},"axis":{"orient":"left","labels":false,"ticks":false,"domain":false,"title":"r,JSD","titleFontStyle":"normal","titleFontSize":11,"titleX":-32,"titleY":65}}}},
  {"data":{"name":"b3"},"mark":{"type":"line","color":"#0000FF","strokeWidth":1.5},"encoding":{"x":{"field":"n","type":"quantitative","scale":{"domain":[0,40]},"axis":{"orient":"bottom","values":[0,10,20,30,40],"title":"n"}},"y":{"field":"m","type":"quantitative","scale":{"domain":[0,1]},"axis":{"orient":"left","values":[0,0.2,0.4,0.6,0.8,1],"title":"D","titleY":79.5}}}},
  {"data":{"name":"b3"},"mark":{"type":"point","shape":"triangle-up","filled":true,"opacity":1,"size":70,"color":"#0000FF"},"encoding":{"x":{"field":"n","type":"quantitative","scale":{"domain":[0,40]},"axis":{"orient":"top","values":[0,10,20,30,40],"title":"b3"}},"y":{"field":"m","type":"quantitative","scale":{"domain":[0,1]},"axis":{"orient":"right","values":[0,0.2,0.4,0.6,0.8,1],"title":null}}}}
 ],"resolve":{"axis":{"x":"independent","y":"independent"}}},
{"width":123,"height":122,
 "layer":[
  {"data":{"name":"c1"},"mark":{"type":"errorbar","ticks":true,"size":6,"thickness":1,"color":"#FF0000","clip":true},"encoding":{"x":{"field":"n","type":"quantitative","scale":{"domain":[0,40]},"axis":null},"y":{"field":"l","type":"quantitative","scale":{"domain":[0,1]},"axis":null},"y2":{"field":"h"}}},
  {"data":{"name":"refs"},"transform":[{"filter":"datum.p==='c1'"}],"mark":{"type":"rule","color":"#000","strokeDash":[7,5],"strokeWidth":1},"encoding":{"y":{"field":"v","type":"quantitative","scale":{"domain":[0,1]},"axis":{"orient":"left","labels":false,"ticks":false,"domain":false,"title":"BC","titleFontStyle":"normal","titleFontSize":11,"titleX":-32,"titleY":60.5}}}},
  {"data":{"name":"c1"},"mark":{"type":"line","color":"#FF0000","strokeWidth":1.5},"encoding":{"x":{"field":"n","type":"quantitative","scale":{"domain":[0,40]},"axis":{"orient":"bottom","values":[0,10,20,30,40],"title":"n"}},"y":{"field":"m","type":"quantitative","scale":{"domain":[0,1]},"axis":{"orient":"left","values":[0,0.2,0.4,0.6,0.8,1],"title":"D","titleY":75}}}},
  {"data":{"name":"c1"},"mark":{"type":"point","shape":"circle","filled":true,"opacity":1,"size":60,"color":"#FF0000"},"encoding":{"x":{"field":"n","type":"quantitative","scale":{"domain":[0,40]},"axis":{"orient":"top","values":[0,10,20,30,40],"title":"c1"}},"y":{"field":"m","type":"quantitative","scale":{"domain":[0,1]},"axis":{"orient":"right","values":[0,0.2,0.4,0.6,0.8,1],"title":null}}}}
 ],"resolve":{"axis":{"x":"independent","y":"independent"}}},
{"width":123,"height":122,
 "layer":[
  {"data":{"name":"c2"},"mark":{"type":"errorbar","ticks":true,"size":6,"thickness":1,"color":"#FF0000","clip":true},"encoding":{"x":{"field":"n","type":"quantitative","scale":{"domain":[0,40]},"axis":null},"y":{"field":"l","type":"quantitative","scale":{"domain":[0,1]},"axis":null},"y2":{"field":"h"}}},
  {"data":{"name":"refs"},"transform":[{"filter":"datum.p==='c2'"}],"mark":{"type":"rule","color":"#000","strokeDash":[7,5],"strokeWidth":1},"encoding":{"y":{"field":"v","type":"quantitative","scale":{"domain":[0,1]},"axis":{"orient":"left","labels":false,"ticks":false,"domain":false,"title":"BC","titleFontStyle":"normal","titleFontSize":11,"titleX":-32,"titleY":60.5}}}},
  {"data":{"name":"c2"},"mark":{"type":"line","color":"#FF0000","strokeWidth":1.5},"encoding":{"x":{"field":"n","type":"quantitative","scale":{"domain":[0,40]},"axis":{"orient":"bottom","values":[0,10,20,30,40],"title":"n"}},"y":{"field":"m","type":"quantitative","scale":{"domain":[0,1]},"axis":{"orient":"left","values":[0,0.2,0.4,0.6,0.8,1],"title":"D","titleY":75}}}},
  {"data":{"name":"c2"},"mark":{"type":"point","shape":"square","filled":true,"opacity":1,"size":55,"color":"#FF0000"},"encoding":{"x":{"field":"n","type":"quantitative","scale":{"domain":[0,40]},"axis":{"orient":"top","values":[0,10,20,30,40],"title":"c2"}},"y":{"field":"m","type":"quantitative","scale":{"domain":[0,1]},"axis":{"orient":"right","values":[0,0.2,0.4,0.6,0.8,1],"title":null}}}}
 ],"resolve":{"axis":{"x":"independent","y":"independent"}}},
{"width":123,"height":122,
 "layer":[
  {"data":{"name":"c3"},"mark":{"type":"errorbar","ticks":true,"size":6,"thickness":1,"color":"#FF0000","clip":true},"encoding":{"x":{"field":"n","type":"quantitative","scale":{"domain":[0,40]},"axis":null},"y":{"field":"l","type":"quantitative","scale":{"domain":[0,1]},"axis":null},"y2":{"field":"h"}}},
  {"data":{"name":"refs"},"transform":[{"filter":"datum.p==='c3'"}],"mark":{"type":"rule","color":"#000","strokeDash":[7,5],"strokeWidth":1},"encoding":{"y":{"field":"v","type":"quantitative","scale":{"domain":[0,1]},"axis":{"orient":"left","labels":false,"ticks":false,"domain":false,"title":"BC","titleFontStyle":"normal","titleFontSize":11,"titleX":-32,"titleY":60.5}}}},
  {"data":{"name":"c3"},"mark":{"type":"line","color":"#FF0000","strokeWidth":1.5},"encoding":{"x":{"field":"n","type":"quantitative","scale":{"domain":[0,40]},"axis":{"orient":"bottom","values":[0,10,20,30,40],"title":"n"}},"y":{"field":"m","type":"quantitative","scale":{"domain":[0,1]},"axis":{"orient":"left","values":[0,0.2,0.4,0.6,0.8,1],"title":"D","titleY":75}}}},
  {"data":{"name":"c3"},"mark":{"type":"point","shape":"triangle-up","filled":true,"opacity":1,"size":70,"color":"#FF0000"},"encoding":{"x":{"field":"n","type":"quantitative","scale":{"domain":[0,40]},"axis":{"orient":"top","values":[0,10,20,30,40],"title":"c3"}},"y":{"field":"m","type":"quantitative","scale":{"domain":[0,1]},"axis":{"orient":"right","values":[0,0.2,0.4,0.6,0.8,1],"title":null}}}}
 ],"resolve":{"axis":{"x":"independent","y":"independent"}}},
{"width":123,"height":122,
 "layer":[
  {"data":{"name":"d1"},"mark":{"type":"errorbar","ticks":true,"size":6,"thickness":1,"color":"#00FF00","clip":true},"encoding":{"x":{"field":"n","type":"quantitative","scale":{"domain":[0,40]},"axis":null},"y":{"field":"l","type":"quantitative","scale":{"domain":[0,1]},"axis":null},"y2":{"field":"h"}}},
  {"data":{"name":"refs"},"transform":[{"filter":"datum.p==='d1'"}],"mark":{"type":"rule","color":"#000","strokeDash":[7,5],"strokeWidth":1},"encoding":{"y":{"field":"v","type":"quantitative","scale":{"domain":[0,1]},"axis":{"orient":"left","labels":false,"ticks":false,"domain":false,"title":"YC","titleFontStyle":"normal","titleFontSize":11,"titleX":-32,"titleY":60.5}}}},
  {"data":{"name":"d1"},"mark":{"type":"line","color":"#00FF00","strokeWidth":1.5},"encoding":{"x":{"field":"n","type":"quantitative","scale":{"domain":[0,40]},"axis":{"orient":"bottom","values":[0,10,20,30,40],"title":"n"}},"y":{"field":"m","type":"quantitative","scale":{"domain":[0,1]},"axis":{"orient":"left","values":[0,0.2,0.4,0.6,0.8,1],"title":"D","titleY":75}}}},
  {"data":{"name":"d1"},"mark":{"type":"point","shape":"circle","filled":true,"opacity":1,"size":60,"color":"#00FF00"},"encoding":{"x":{"field":"n","type":"quantitative","scale":{"domain":[0,40]},"axis":{"orient":"top","values":[0,10,20,30,40],"title":"d1"}},"y":{"field":"m","type":"quantitative","scale":{"domain":[0,1]},"axis":{"orient":"right","values":[0,0.2,0.4,0.6,0.8,1],"title":null}}}}
 ],"resolve":{"axis":{"x":"independent","y":"independent"}}},
{"width":123,"height":122,
 "layer":[
  {"data":{"name":"d2"},"mark":{"type":"errorbar","ticks":true,"size":6,"thickness":1,"color":"#00FF00","clip":true},"encoding":{"x":{"field":"n","type":"quantitative","scale":{"domain":[0,40]},"axis":null},"y":{"field":"l","type":"quantitative","scale":{"domain":[0,1]},"axis":null},"y2":{"field":"h"}}},
  {"data":{"name":"refs"},"transform":[{"filter":"datum.p==='d2'"}],"mark":{"type":"rule","color":"#000","strokeDash":[7,5],"strokeWidth":1},"encoding":{"y":{"field":"v","type":"quantitative","scale":{"domain":[0,1]},"axis":{"orient":"left","labels":false,"ticks":false,"domain":false,"title":"YC","titleFontStyle":"normal","titleFontSize":11,"titleX":-32,"titleY":60.5}}}},
  {"data":{"name":"d2"},"mark":{"type":"line","color":"#00FF00","strokeWidth":1.5},"encoding":{"x":{"field":"n","type":"quantitative","scale":{"domain":[0,40]},"axis":{"orient":"bottom","values":[0,10,20,30,40],"title":"n"}},"y":{"field":"m","type":"quantitative","scale":{"domain":[0,1]},"axis":{"orient":"left","values":[0,0.2,0.4,0.6,0.8,1],"title":"D","titleY":75}}}},
  {"data":{"name":"d2"},"mark":{"type":"point","shape":"square","filled":true,"opacity":1,"size":55,"color":"#00FF00"},"encoding":{"x":{"field":"n","type":"quantitative","scale":{"domain":[0,40]},"axis":{"orient":"top","values":[0,10,20,30,40],"title":"d2"}},"y":{"field":"m","type":"quantitative","scale":{"domain":[0,1]},"axis":{"orient":"right","values":[0,0.2,0.4,0.6,0.8,1],"title":null}}}}
 ],"resolve":{"axis":{"x":"independent","y":"independent"}}},
{"width":123,"height":122,
 "layer":[
  {"data":{"name":"d3"},"mark":{"type":"errorbar","ticks":true,"size":6,"thickness":1,"color":"#00FF00","clip":true},"encoding":{"x":{"field":"n","type":"quantitative","scale":{"domain":[0,40]},"axis":null},"y":{"field":"l","type":"quantitative","scale":{"domain":[0,1]},"axis":null},"y2":{"field":"h"}}},
  {"data":{"name":"refs"},"transform":[{"filter":"datum.p==='d3'"}],"mark":{"type":"rule","color":"#000","strokeDash":[7,5],"strokeWidth":1},"encoding":{"y":{"field":"v","type":"quantitative","scale":{"domain":[0,1]},"axis":{"orient":"left","labels":false,"ticks":false,"domain":false,"title":"YC","titleFontStyle":"normal","titleFontSize":11,"titleX":-32,"titleY":60.5}}}},
  {"data":{"name":"d3"},"mark":{"type":"line","color":"#00FF00","strokeWidth":1.5},"encoding":{"x":{"field":"n","type":"quantitative","scale":{"domain":[0,40]},"axis":{"orient":"bottom","values":[0,10,20,30,40],"title":"n"}},"y":{"field":"m","type":"quantitative","scale":{"domain":[0,1]},"axis":{"orient":"left","values":[0,0.2,0.4,0.6,0.8,1],"title":"D","titleY":75}}}},
  {"data":{"name":"d3"},"mark":{"type":"point","shape":"triangle-up","filled":true,"opacity":1,"size":70,"color":"#00FF00"},"encoding":{"x":{"field":"n","type":"quantitative","scale":{"domain":[0,40]},"axis":{"orient":"top","values":[0,10,20,30,40],"title":"d3"}},"y":{"field":"m","type":"quantitative","scale":{"domain":[0,1]},"axis":{"orient":"right","values":[0,0.2,0.4,0.6,0.8,1],"title":null}}}}
 ],"resolve":{"axis":{"x":"independent","y":"independent"}}},
{"width":123,"height":122,
 "layer":[
  {"data":{"name":"e1"},"mark":{"type":"errorbar","ticks":true,"size":6,"thickness":1,"color":"#FF00FF","clip":true},"encoding":{"x":{"field":"n","type":"quantitative","scale":{"domain":[0,40]},"axis":null},"y":{"field":"l","type":"quantitative","scale":{"domain":[0,2]},"axis":null},"y2":{"field":"h"}}},
  {"data":{"name":"refs"},"transform":[{"filter":"datum.p==='e1'"}],"mark":{"type":"rule","color":"#000","strokeDash":[7,5],"strokeWidth":1},"encoding":{"y":{"field":"v","type":"quantitative","scale":{"domain":[0,2]},"axis":{"orient":"left","labels":false,"ticks":false,"domain":false,"title":"nSC","titleFontStyle":"normal","titleFontSize":11,"titleX":-32,"titleY":62.5}}}},
  {"data":{"name":"e1"},"mark":{"type":"line","color":"#FF00FF","strokeWidth":1.5},"encoding":{"x":{"field":"n","type":"quantitative","scale":{"domain":[0,40]},"axis":{"orient":"bottom","values":[0,10,20,30,40],"title":"n"}},"y":{"field":"m","type":"quantitative","scale":{"domain":[0,2]},"axis":{"orient":"left","values":[0,0.4,0.8,1.2,1.6,2],"title":"D","titleY":77}}}},
  {"data":{"name":"e1"},"mark":{"type":"point","shape":"circle","filled":true,"opacity":1,"size":60,"color":"#FF00FF"},"encoding":{"x":{"field":"n","type":"quantitative","scale":{"domain":[0,40]},"axis":{"orient":"top","values":[0,10,20,30,40],"title":"e1"}},"y":{"field":"m","type":"quantitative","scale":{"domain":[0,2]},"axis":{"orient":"right","values":[0,0.4,0.8,1.2,1.6,2],"title":null}}}}
 ],"resolve":{"axis":{"x":"independent","y":"independent"}}},
{"width":123,"height":122,
 "layer":[
  {"data":{"name":"e2"},"mark":{"type":"errorbar","ticks":true,"size":6,"thickness":1,"color":"#FF00FF","clip":true},"encoding":{"x":{"field":"n","type":"quantitative","scale":{"domain":[0,40]},"axis":null},"y":{"field":"l","type":"quantitative","scale":{"domain":[0,2]},"axis":null},"y2":{"field":"h"}}},
  {"data":{"name":"refs"},"transform":[{"filter":"datum.p==='e2'"}],"mark":{"type":"rule","color":"#000","strokeDash":[7,5],"strokeWidth":1},"encoding":{"y":{"field":"v","type":"quantitative","scale":{"domain":[0,2]},"axis":{"orient":"left","labels":false,"ticks":false,"domain":false,"title":"nSC","titleFontStyle":"normal","titleFontSize":11,"titleX":-32,"titleY":62.5}}}},
  {"data":{"name":"e2"},"mark":{"type":"line","color":"#FF00FF","strokeWidth":1.5},"encoding":{"x":{"field":"n","type":"quantitative","scale":{"domain":[0,40]},"axis":{"orient":"bottom","values":[0,10,20,30,40],"title":"n"}},"y":{"field":"m","type":"quantitative","scale":{"domain":[0,2]},"axis":{"orient":"left","values":[0,0.4,0.8,1.2,1.6,2],"title":"D","titleY":77}}}},
  {"data":{"name":"e2"},"mark":{"type":"point","shape":"square","filled":true,"opacity":1,"size":55,"color":"#FF00FF"},"encoding":{"x":{"field":"n","type":"quantitative","scale":{"domain":[0,40]},"axis":{"orient":"top","values":[0,10,20,30,40],"title":"e2"}},"y":{"field":"m","type":"quantitative","scale":{"domain":[0,2]},"axis":{"orient":"right","values":[0,0.4,0.8,1.2,1.6,2],"title":null}}}}
 ],"resolve":{"axis":{"x":"independent","y":"independent"}}},
{"width":123,"height":122,
 "layer":[
  {"data":{"name":"e3"},"mark":{"type":"errorbar","ticks":true,"size":6,"thickness":1,"color":"#FF00FF","clip":true},"encoding":{"x":{"field":"n","type":"quantitative","scale":{"domain":[0,40]},"axis":null},"y":{"field":"l","type":"quantitative","scale":{"domain":[0,2]},"axis":null},"y2":{"field":"h"}}},
  {"data":{"name":"refs"},"transform":[{"filter":"datum.p==='e3'"}],"mark":{"type":"rule","color":"#000","strokeDash":[7,5],"strokeWidth":1},"encoding":{"y":{"field":"v","type":"quantitative","scale":{"domain":[0,2]},"axis":{"orient":"left","labels":false,"ticks":false,"domain":false,"title":"nSC","titleFontStyle":"normal","titleFontSize":11,"titleX":-32,"titleY":62.5}}}},
  {"data":{"name":"e3"},"mark":{"type":"line","color":"#FF00FF","strokeWidth":1.5},"encoding":{"x":{"field":"n","type":"quantitative","scale":{"domain":[0,40]},"axis":{"orient":"bottom","values":[0,10,20,30,40],"title":"n"}},"y":{"field":"m","type":"quantitative","scale":{"domain":[0,2]},"axis":{"orient":"left","values":[0,0.4,0.8,1.2,1.6,2],"title":"D","titleY":77}}}},
  {"data":{"name":"e3"},"mark":{"type":"point","shape":"triangle-up","filled":true,"opacity":1,"size":70,"color":"#FF00FF"},"encoding":{"x":{"field":"n","type":"quantitative","scale":{"domain":[0,40]},"axis":{"orient":"top","values":[0,10,20,30,40],"title":"e3"}},"y":{"field":"m","type":"quantitative","scale":{"domain":[0,2]},"axis":{"orient":"right","values":[0,0.4,0.8,1.2,1.6,2],"title":null}}}}
 ],"resolve":{"axis":{"x":"independent","y":"independent"}}}
]
}
